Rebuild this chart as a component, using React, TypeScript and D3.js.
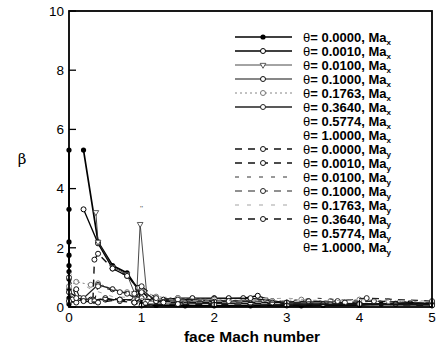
import React from "react";
import * as d3 from "d3";

// x ticks / y ticks
const xTicks = [0, 1, 2, 3, 4, 5];
const yTicks = [0, 2, 4, 6, 8, 10];

// legend labels (theta values, direction)
const thetas = ["0.0000", "0.0010", "0.0100", "0.1000", "0.1763", "0.3640", "0.5774", "1.0000"];
const dirs = ["x", "y"];

// series data: [face Mach, beta]; NaN marks a break
const s1 = [
  [0, 5.3], [0, 3.3], [0, 2.2], [0, 1.75], [0, 1.4], [0, 1.2], [0, 0.95], [0, 0.6], [0, 0.3], [0, 0.1],
  [NaN, NaN],
  [0.2, 5.3], [0.4, 2.2], [0.6, 1.4], [0.8, 1.15], [0.95, 0.6], [1.0, 0.1], [1.2, 0.05], [1.6, 0.04],
  [2.0, 0.04], [2.5, 0.04], [3.0, 0.05], [3.2, 0.04], [3.5, 0.05], [4.0, 0.06], [4.3, 0.1], [4.5, 0.12],
  [4.7, 0.15], [5.0, 0.1],
];
const s2 = [
  [0.2, 3.3], [0.4, 2.15], [0.6, 1.3], [0.8, 1.05], [0.95, 0.65], [1.1, 0.3], [1.3, 0.25], [1.5, 0.3],
  [1.7, 0.3], [2.0, 0.3], [2.2, 0.3], [2.4, 0.3], [2.6, 0.38], [2.8, 0.2], [3.0, 0.1], [3.5, 0.1],
  [4.0, 0.1], [4.5, 0.1], [5.0, 0.1],
];
const s3 = [
  [0.37, 3.2], [0.4, 2.2], [0.6, 1.35], [0.8, 1.1], [0.93, 0.3], [0.98, 2.8], [1.08, 0.2], [1.3, 0.2],
  [2.0, 0.2], [2.7, 0.25], [3.0, 0.12], [4.0, 0.1], [5.0, 0.08],
];
const s4 = [
  [0.1, 0.6], [0.15, 0.3], [0.3, 0.25], [0.5, 0.25], [0.7, 0.25], [0.9, 0.25], [1.0, 0.6], [1.2, 0.2],
  [1.5, 0.25], [2.0, 0.28], [2.5, 0.3], [3.0, 0.15], [4.0, 0.12], [5.0, 0.1],
];
const s5 = [
  [0, 0.7], [0.1, 0.85], [0.3, 0.75], [0.4, 0.8], [0.6, 0.6], [0.8, 0.5], [1.0, 0.55], [1.2, 0.35],
  [1.5, 0.3], [2.0, 0.25], [2.8, 0.2], [3.2, 0.25], [3.6, 0.2], [4.0, 0.25], [4.4, 0.2], [5.0, 0.15],
];
const s6 = [
  [0.05, 0.25], [0.2, 0.3], [0.4, 0.75], [0.6, 0.6], [0.8, 0.45], [0.95, 0.25], [1.05, 0.1], [1.5, 0.1],
  [2.0, 0.12], [3.0, 0.08], [4.0, 0.08], [5.0, 0.06],
];
const s9 = [
  [0.33, 0.25], [0.35, 1.6], [0.4, 1.8], [0.6, 1.3], [0.8, 1.05], [1.0, 0.5], [1.2, 0.2], [1.6, 0.15],
  [2.0, 0.15], [2.5, 0.12], [3.0, 0.1], [4.0, 0.08], [5.0, 0.08],
];
const s10 = [
  [0, 0.2], [0.1, 0.15], [0.3, 0.2], [0.5, 0.3], [0.7, 0.2], [0.9, 0.15], [1.0, 0.3], [1.3, 0.15],
  [2.0, 0.18], [2.8, 0.15], [3.3, 0.2], [3.8, 0.15], [4.2, 0.2], [5.0, 0.12],
];
const s11 = [
  [0, 0.4], [0.2, 0.2], [0.4, 0.35], [0.6, 0.3], [0.9, 0.2], [1.1, 0.35], [1.4, 0.2], [2.0, 0.22],
  [3.0, 0.2], [3.4, 0.3], [4.0, 0.2], [5.0, 0.15],
];
const s12 = [
  [0, 1.0], [0.1, 0.3], [0.35, 0.2], [0.4, 0.7], [0.7, 0.5], [0.9, 0.45], [1.0, 0.7], [1.2, 0.3],
  [1.5, 0.25], [2.2, 0.2], [3.0, 0.15], [3.7, 0.2], [4.1, 0.3], [5.0, 0.2],
];
const s13 = [
  [0, 1.2], [0.1, 0.9], [0.3, 0.6], [0.6, 0.35], [1.0, 0.3], [1.3, 0.25], [2.0, 0.2], [3.0, 0.3],
  [3.5, 0.2], [4.0, 0.25], [5.0, 0.2],
];
const s14 = [
  [0, 0.5], [0.2, 0.2], [0.4, 0.15], [0.7, 0.25], [0.9, 0.15], [1.0, 0.05], [1.5, 0.1], [2.0, 0.08],
  [3.0, 0.05], [4.0, 0.1], [5.0, 0.05],
];

type Style = { width: number; dash: string; color: string; marker: "filled" | "open" | "tri" | "none" };
const series: { data: number[][]; style: Style | null }[] = [
  { data: s1, style: { width: 1.7, dash: "", color: "#000", marker: "filled" } },
  { data: s2, style: { width: 1.3, dash: "", color: "#000", marker: "open" } },
  { data: s3, style: { width: 0.9, dash: "", color: "#333", marker: "tri" } },
  { data: s4, style: { width: 1.1, dash: "", color: "#111", marker: "open" } },
  { data: s5, style: { width: 0.9, dash: "2,3", color: "#777", marker: "open" } },
  { data: s6, style: { width: 1.3, dash: "", color: "#222", marker: "open" } },
  { data: [], style: null },
  { data: [], style: null },
  { data: s9, style: { width: 1.4, dash: "7,6", color: "#111", marker: "open" } },
  { data: s10, style: { width: 1.4, dash: "7,6", color: "#111", marker: "open" } },
  { data: s11, style: { width: 1.0, dash: "4,8", color: "#333", marker: "none" } },
  { data: s12, style: { width: 1.2, dash: "7,6", color: "#222", marker: "open" } },
  { data: s13, style: { width: 0.9, dash: "4,8", color: "#999", marker: "none" } },
  { data: s14, style: { width: 1.4, dash: "7,6", color: "#111", marker: "open" } },
  { data: [], style: null },
  { data: [], style: null },
];

const W = 436, H = 346;
const m = { left: 69, right: 432, top: 11, bottom: 307 };

function Marker({ x, y, s }: { x: number; y: number; s: Style }) {
  if (s.marker === "filled") return <circle cx={x} cy={y} r={2.6} fill="#000" />;
  if (s.marker === "open") return <circle cx={x} cy={y} r={2.5} fill="#fff" stroke={s.color} strokeWidth={1} />;
  if (s.marker === "tri")
    return <path d={d3.symbol(d3.symbolTriangle, 14)() || ""} transform={`translate(${x},${y}) rotate(180)`} fill="#fff" stroke={s.color} strokeWidth={0.8} />;
  return null;
}

export default function App() {
  const x = d3.scaleLinear().domain([0, 5]).range([m.left, m.right]);
  const y = d3.scaleLinear().domain([0, 10]).range([m.bottom, m.top]);
  const line = d3
    .line<number[]>()
    .defined((d) => !isNaN(d[0]))
    .x((d) => x(d[0]))
    .y((d) => y(d[1]));

  const legendRows = dirs.flatMap((d) => thetas.map((t) => ({ t, d })));
  const rowY = (i: number) => 37 + i * 14;

  return (
    <svg width={W} height={H} style={{ position: "absolute", left: 0, top: 0, background: "#fff" }} fontFamily="Arial, 'Liberation Sans', sans-serif">
      {/* data lines */}
      {series.map((s, i) =>
        s.style ? (
          <g key={i}>
            <path d={line(s.data) || ""} fill="none" stroke={s.style.color} strokeWidth={s.style.width} strokeDasharray={s.style.dash} />
            {s.data.filter((d) => !isNaN(d[0])).map((d, j) => (
              <Marker key={j} x={x(d[0])} y={y(d[1])} s={s.style!} />
            ))}
          </g>
        ) : null
      )}
      {/* spike marker */}
      <text x={x(1.0)} y={y(3.25)} fontSize={8} textAnchor="middle" fill="#555">''</text>

      {/* frame */}
      <rect x={m.left} y={m.top} width={m.right - m.left} height={m.bottom - m.top} fill="none" stroke="#000" strokeWidth={1.8} />
      {yTicks.map((t) => (
        <g key={t}>
          <line x1={m.left} x2={m.left + 7} y1={y(t)} y2={y(t)} stroke="#000" strokeWidth={1.3} />
          <text x={m.left - 5} y={y(t)} dy="0.36em" fontSize={13.5} textAnchor="end">{t}</text>
        </g>
      ))}
      {xTicks.map((t) => (
        <g key={t}>
          <line x1={x(t)} x2={x(t)} y1={m.bottom} y2={m.bottom - 7} stroke="#000" strokeWidth={1.3} />
          <text x={x(t)} y={m.bottom + 15} fontSize={13.5} textAnchor="middle">{t}</text>
        </g>
      ))}
      <text x={252} y={342} fontSize={15.5} fontWeight="bold" textAnchor="middle">face Mach number</text>
      <text x={22} y={164} fontSize={15} textAnchor="middle" fontFamily="'DejaVu Serif', serif">β</text>

      {/* legend */}
      {legendRows.map((r, i) => {
        const s = series[i].style;
        const ly = rowY(i);
        return (
          <g key={i}>
            {s && (
              <g>
                <line x1={235} x2={292} y1={ly} y2={ly} stroke={s.color} strokeWidth={s.width} strokeDasharray={s.dash} />
                <Marker x={263} y={ly} s={s} />
              </g>
            )}
            <text x={303} y={ly} dy="0.35em" fontSize={13} fontWeight="bold">
              <tspan fontWeight="normal">θ</tspan>= {r.t}, Ma
              <tspan fontSize={8} dy="3">{r.d}</tspan>
            </text>
          </g>
        );
      })}
    </svg>
  );
}
